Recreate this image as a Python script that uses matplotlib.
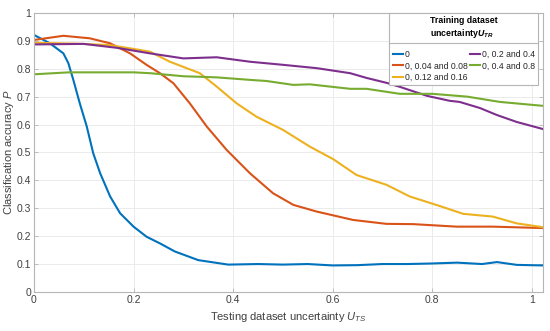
import matplotlib
matplotlib.use("Agg")
import matplotlib.pyplot as plt
from matplotlib.lines import Line2D

plt.rcParams['font.family'] = ['Liberation Sans', 'DejaVu Sans']
plt.rcParams['mathtext.fontset'] = 'custom'
plt.rcParams['mathtext.it'] = 'Liberation Sans:italic'
plt.rcParams['mathtext.bf'] = 'Liberation Sans:bold:italic'
plt.rcParams['mathtext.rm'] = 'Liberation Sans'

# ---- data ----
x_blue = [0.0, 0.032, 0.059, 0.069, 0.079, 0.092, 0.106, 0.119, 0.133, 0.153, 0.173, 0.2,
          0.226, 0.253, 0.283, 0.33, 0.39, 0.45, 0.5, 0.55, 0.6, 0.65, 0.7, 0.75, 0.8, 0.85,
          0.9, 0.93, 0.97, 1.022]
y_blue = [0.921, 0.891, 0.855, 0.82, 0.76, 0.676, 0.593, 0.497, 0.425, 0.342, 0.282, 0.234,
          0.198, 0.174, 0.145, 0.114, 0.098, 0.1, 0.098, 0.1, 0.095, 0.096, 0.1, 0.1, 0.102, 0.105,
          0.1, 0.107, 0.097, 0.095]

x_red = [0.0, 0.059, 0.112, 0.153, 0.193, 0.226, 0.253, 0.28, 0.313, 0.347, 0.387, 0.434,
         0.48, 0.521, 0.568, 0.641, 0.708, 0.762, 0.849, 0.922, 1.022]
y_red = [0.903, 0.918, 0.909, 0.891, 0.855, 0.814, 0.784, 0.748, 0.676, 0.593, 0.509, 0.425,
         0.354, 0.312, 0.288, 0.258, 0.244, 0.243, 0.234, 0.234, 0.229]

x_yellow = [0.0, 0.08, 0.15, 0.193, 0.233, 0.273, 0.333, 0.367, 0.407, 0.447, 0.5, 0.554,
            0.601, 0.648, 0.708, 0.755, 0.815, 0.862, 0.922, 0.969, 1.022]
y_yellow = [0.893, 0.89, 0.885, 0.873, 0.861, 0.825, 0.784, 0.736, 0.676, 0.628, 0.581, 0.521,
            0.476, 0.419, 0.384, 0.342, 0.308, 0.28, 0.27, 0.246, 0.232]

x_purple = [0.0, 0.1, 0.166, 0.193, 0.233, 0.3, 0.367, 0.434, 0.5, 0.568, 0.635, 0.668,
            0.709, 0.735, 0.789, 0.835, 0.855, 0.896, 0.93, 0.97, 1.022]
y_purple = [0.887, 0.889, 0.875, 0.867, 0.855, 0.837, 0.841, 0.825, 0.814, 0.802, 0.784, 0.767,
            0.749, 0.735, 0.703, 0.685, 0.681, 0.659, 0.634, 0.609, 0.584]

x_green = [0.0, 0.07, 0.2, 0.233, 0.3, 0.367, 0.434, 0.467, 0.521, 0.554, 0.635, 0.668,
           0.735, 0.8, 0.87, 0.936, 1.022]
y_green = [0.78, 0.787, 0.787, 0.784, 0.773, 0.769, 0.76, 0.756, 0.742, 0.744, 0.728, 0.728,
           0.71, 0.71, 0.7, 0.681, 0.667]

labels = ['0', '0, 0.04 and 0.08', '0, 0.12 and 0.16', '0, 0.2 and 0.4', '0, 0.4 and 0.8']
colors = ['#0072BD', '#D95319', '#EDB120', '#7E2F8E', '#77AC30']
xticks = [0, 0.2, 0.4, 0.6, 0.8, 1]
xticklabels = ['0', '0.2', '0.4', '0.6', '0.8', '1']
yticks = [0, 0.1, 0.2, 0.3, 0.4, 0.5, 0.6, 0.7, 0.8, 0.9, 1]
yticklabels = ['0', '0.1', '0.2', '0.3', '0.4', '0.5', '0.6', '0.7', '0.8', '0.9', '1']

fig = plt.figure(figsize=(5.5, 3.31), dpi=100)
ax = fig.add_axes([0.0618, 0.118, 0.925, 0.843])

series = [(x_blue, y_blue), (x_red, y_red), (x_yellow, y_yellow), (x_purple, y_purple), (x_green, y_green)]
for (xs, ys), c, lab in zip(series, colors, labels):
    ax.plot(xs, ys, color=c, lw=1.5, label=lab, solid_joinstyle='round')

ax.set_xlim(0, 1.022)
ax.set_ylim(0, 1)
ax.set_xticks(xticks)
ax.set_xticklabels(xticklabels)
ax.set_yticks(yticks)
ax.set_yticklabels(yticklabels)
ax.grid(True, color='#ebebeb', lw=0.7)
ax.set_axisbelow(True)
for s in ax.spines.values():
    s.set_color('#b5b5b5')
    s.set_linewidth(0.8)
ax.tick_params(direction='in', length=3, width=0.6, color='#b5b5b5', labelcolor='#404040',
               labelsize=7.5, pad=2, top=True, right=True)
ax.set_xlabel('Testing dataset uncertainty $\\mathit{U}_{\\mathit{TS}}$', fontsize=8, color='#404040', labelpad=4)
ax.set_ylabel('Classification accuracy $\\mathit{P}$', fontsize=8, color='#404040')
ax.yaxis.set_label_coords(-0.035, 0.5)

leg = ax.legend(ncol=2, loc='upper right', bbox_to_anchor=(0.991, 1.0), fontsize=6.2,
                title='Training dataset\nuncertainty$\\mathbf{U}_{\\mathbf{TR}}$',
                title_fontproperties={'weight': 'bold', 'size': 6.3},
                handlelength=1.2, handletextpad=0.2, columnspacing=0.25, labelspacing=0.3,
                borderaxespad=0.0, borderpad=0.4, fancybox=False, framealpha=1,
                edgecolor='#b5b5b5')
leg.get_frame().set_linewidth(0.8)
leg._legend_box.sep = 7
for t in leg.get_texts():
    t.set_color('#262626')

fig.canvas.draw()
r = fig.canvas.get_renderer()
lb = leg.get_window_extent(r)
tb = leg.get_title().get_window_extent(r)
yline = tb.y0 - 3
inv = fig.transFigure.inverted()
(x0f, yf) = inv.transform((lb.x0, yline))
(x1f, _) = inv.transform((lb.x1, yline))
fig.add_artist(Line2D([x0f, x1f], [yf, yf], transform=fig.transFigure, color='#b5b5b5', lw=0.8))

fig.savefig('out.png', dpi=100)
